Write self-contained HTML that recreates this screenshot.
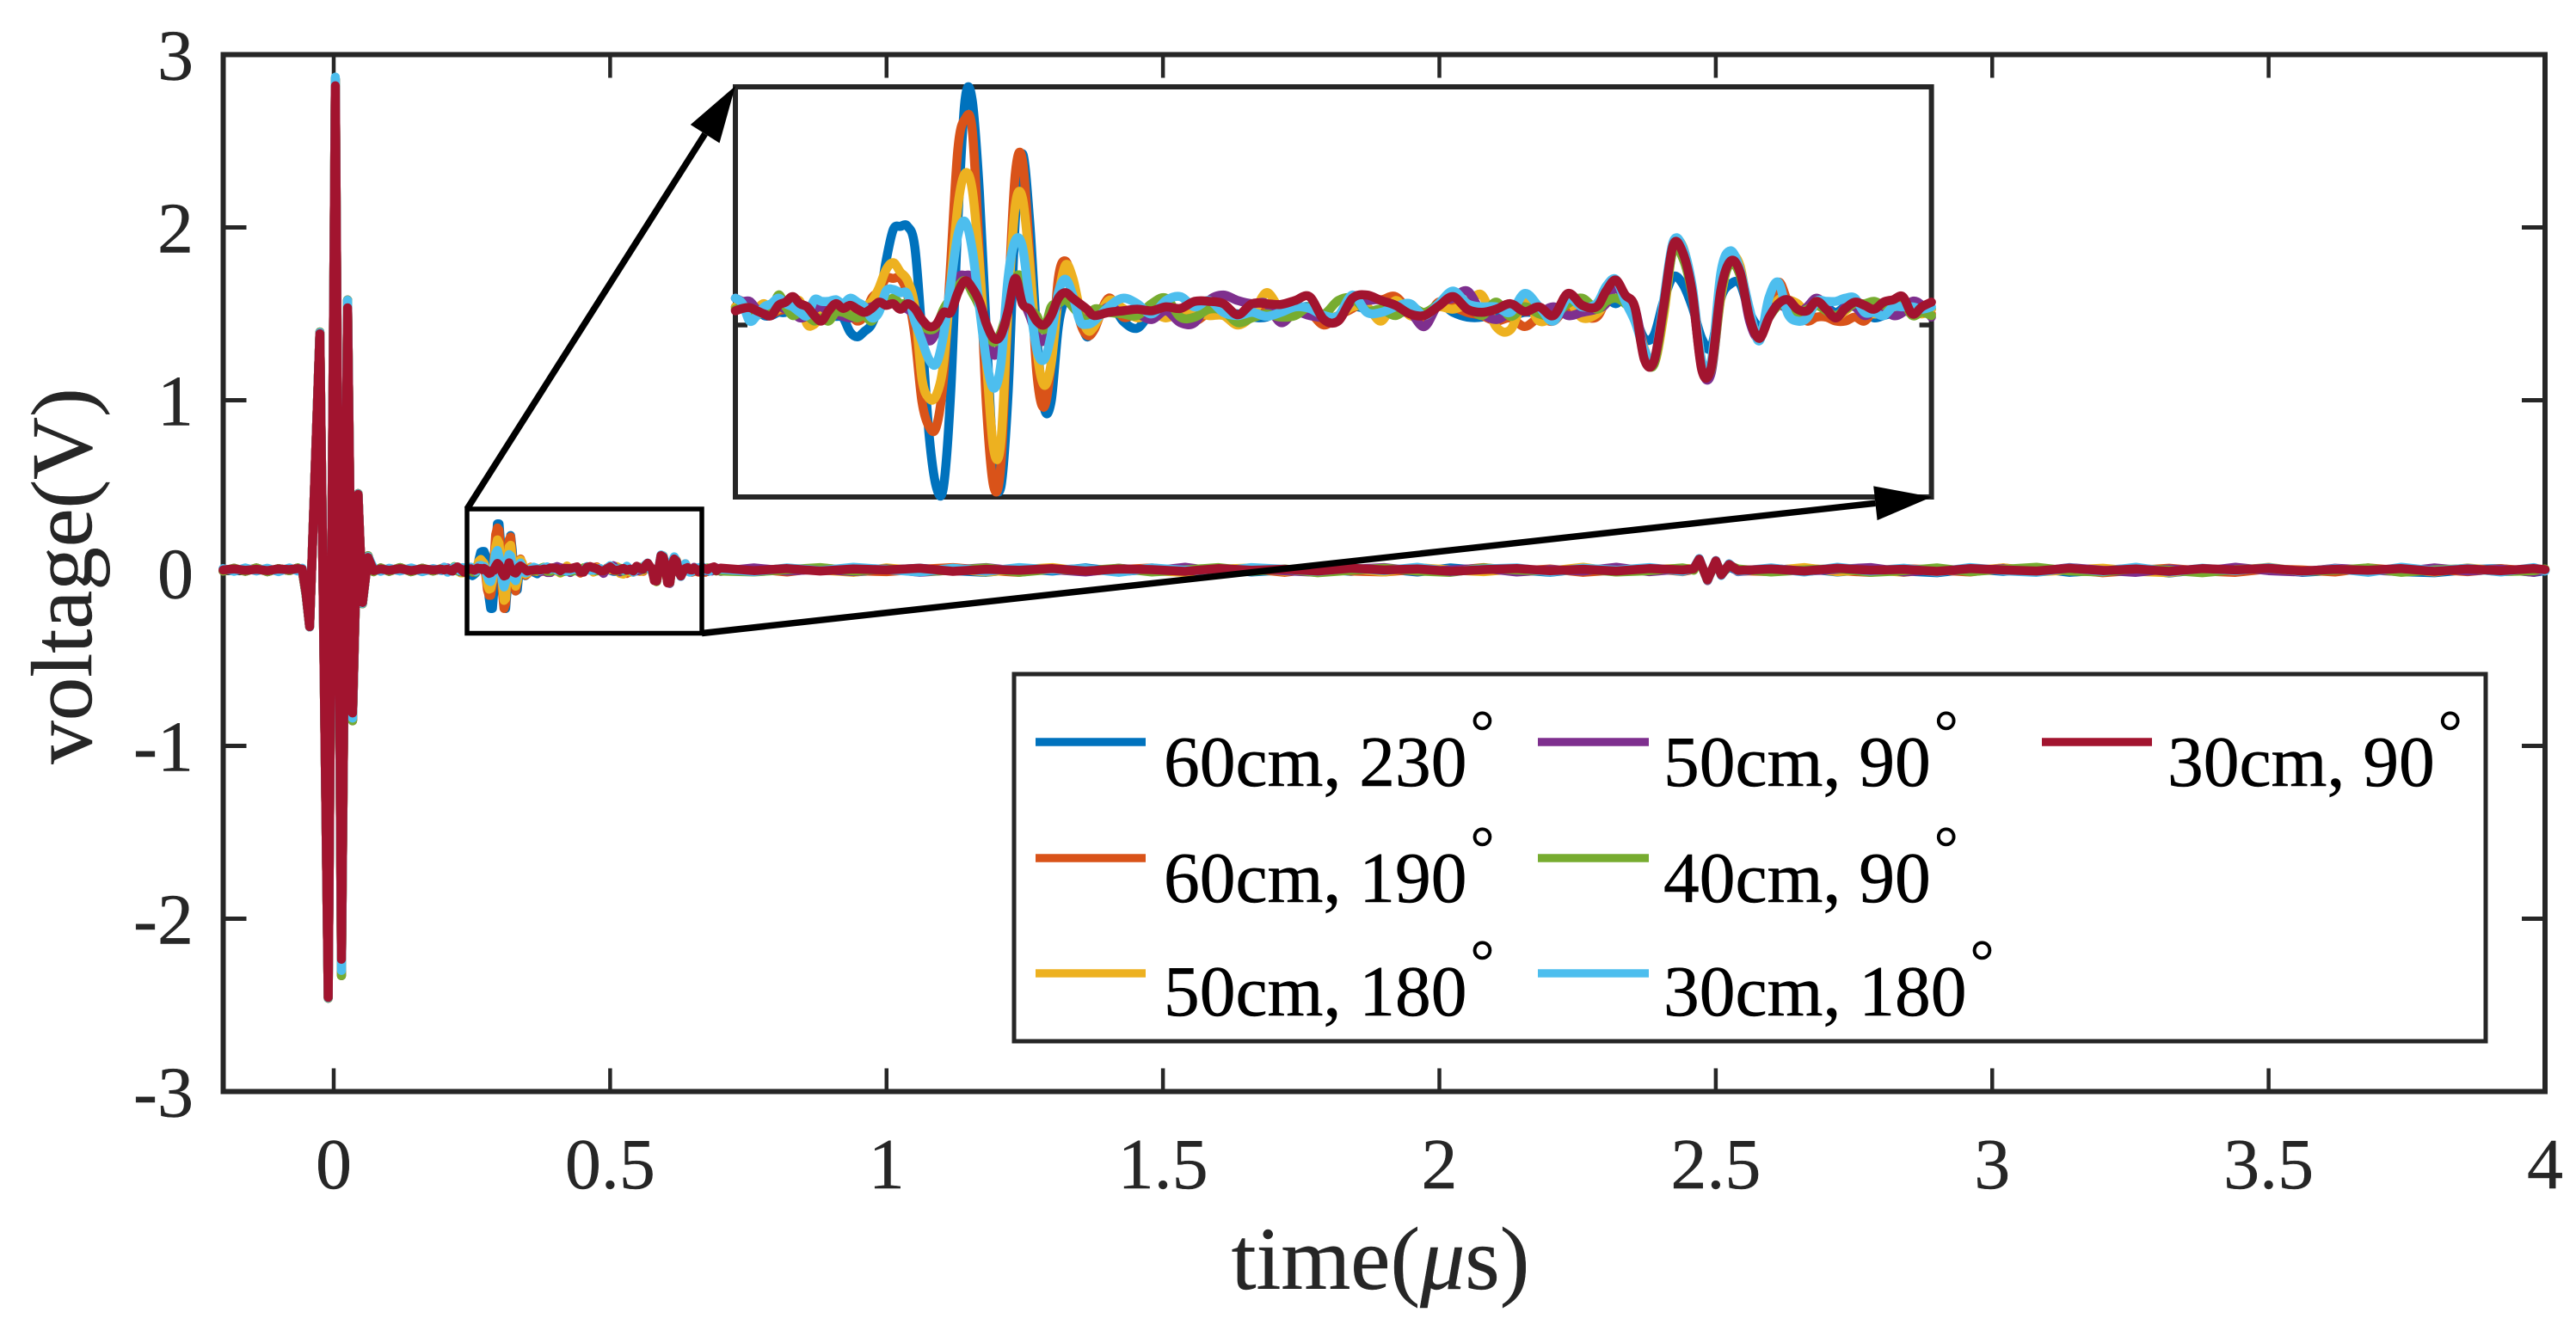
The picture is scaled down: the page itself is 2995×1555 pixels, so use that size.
<!DOCTYPE html>
<html lang="en">
<head>
<meta charset="utf-8">
<title>Voltage versus time</title>
<style>
html,body{margin:0;padding:0;background:#fff;width:2995px;height:1555px;overflow:hidden}
svg{display:block}
text{font-family:"Liberation Serif","Times New Roman",serif}
.tick-label{font-size:84px;fill:#262626;stroke:#262626;stroke-width:.4}
.legend-label{font-size:83.5px;fill:#000;stroke:#000;stroke-width:.5}
.deg{font-size:70px}
</style>
</head>
<body>
<svg id="chart" xmlns="http://www.w3.org/2000/svg" width="2995" height="1555" viewBox="0 0 2995 1555">
  <rect x="0" y="0" width="2995" height="1555" fill="#fff"/>
  <rect x="259.5" y="63.5" width="2699.5" height="1206" fill="none" stroke="#262626" stroke-width="6"/>
  <g id="axis-ticks"></g>
  <g id="main-series" fill="none" stroke-width="10.5" stroke-linejoin="round" stroke-linecap="round"></g>
  <rect x="543" y="592" width="273" height="144.5" fill="none" stroke="#000" stroke-width="5.5"/>
  <rect x="855" y="101" width="1390.6" height="477" fill="#fff" stroke="#262626" stroke-width="6"/>
  <g id="inset-ticks"></g>
  <g id="inset-series" fill="none" stroke-width="10.5" stroke-linejoin="round" stroke-linecap="round"></g>
  <g id="zoom-arrows"></g>
  <text transform="translate(106,670) rotate(-90)" text-anchor="middle" font-size="101" fill="#262626" stroke="#262626" stroke-width=".4">voltage(V)</text>
  <text x="1605" y="1499" text-anchor="middle" font-size="104" fill="#262626" stroke="#262626" stroke-width=".4">time(<tspan font-style="italic">μ</tspan>s)</text>
  <g>
    <rect x="1179" y="784" width="1711" height="427" fill="#fff" stroke="#262626" stroke-width="5"/>
    <g>
      <line x1="1204" y1="863" x2="1332" y2="863" stroke="#0072BD" stroke-width="9.5"/>
      <text class="legend-label" x="1353" y="914">60cm, 230<tspan class="deg" dx="4" dy="-39.5">°</tspan></text>
    </g>
    <g>
      <line x1="1204" y1="998" x2="1332" y2="998" stroke="#D95319" stroke-width="9.5"/>
      <text class="legend-label" x="1353" y="1049">60cm, 190<tspan class="deg" dx="4" dy="-39.5">°</tspan></text>
    </g>
    <g>
      <line x1="1204" y1="1132" x2="1332" y2="1132" stroke="#EDB120" stroke-width="9.5"/>
      <text class="legend-label" x="1353" y="1181">50cm, 180<tspan class="deg" dx="4" dy="-39.5">°</tspan></text>
    </g>
    <g>
      <line x1="1788" y1="863" x2="1917" y2="863" stroke="#7E2F8E" stroke-width="9.5"/>
      <text class="legend-label" x="1934" y="914">50cm, 90<tspan class="deg" dx="4" dy="-39.5">°</tspan></text>
    </g>
    <g>
      <line x1="1788" y1="998" x2="1917" y2="998" stroke="#77AC30" stroke-width="9.5"/>
      <text class="legend-label" x="1934" y="1049">40cm, 90<tspan class="deg" dx="4" dy="-39.5">°</tspan></text>
    </g>
    <g>
      <line x1="1788" y1="1132" x2="1917" y2="1132" stroke="#4DBEEE" stroke-width="9.5"/>
      <text class="legend-label" x="1934" y="1181">30cm, 180<tspan class="deg" dx="4" dy="-39.5">°</tspan></text>
    </g>
    <g>
      <line x1="2374" y1="863" x2="2502" y2="863" stroke="#A2142F" stroke-width="9.5"/>
      <text class="legend-label" x="2520" y="914">30cm, 90<tspan class="deg" dx="4" dy="-39.5">°</tspan></text>
    </g>
  </g>
</svg>
<script>
const xTicks = [0, 0.5, 1, 1.5, 2, 2.5, 3, 3.5, 4];
const xTickLabels = ['0', '0.5', '1', '1.5', '2', '2.5', '3', '3.5', '4'];
const yTicks = [-3, -2, -1, 0, 1, 2, 3];
const yTickLabels = ['-3', '-2', '-1', '0', '1', '2', '3'];

const pulseTime = [-0.2,-0.18,-0.16,-0.14,-0.12,-0.1,-0.08,-0.065,-0.057,-0.05,-0.0436,-0.025,-0.01,0.003,0.014,0.025,0.034,0.044,0.052,0.062,0.072,0.085,0.1,0.12,0.14,0.16,0.18,0.195];
const clusterTime = [0.2,0.203,0.206,0.209,0.212,0.215,0.218,0.221,0.224,0.227,0.23,0.233,0.236,0.239,0.242,0.245,0.248,0.251,0.254,0.257,0.26,0.263,0.266,0.269,0.272,0.275,0.278,0.281,0.284,0.287,0.29,0.293,0.296,0.299,0.302,0.305,0.308,0.311,0.314,0.317,0.32,0.323,0.326,0.329,0.332,0.335,0.338,0.341,0.344,0.347];
const midTime = [0.35,0.356,0.362,0.368,0.374,0.38,0.386,0.392,0.398,0.404,0.41,0.416,0.422,0.428,0.434,0.44,0.446,0.452,0.458,0.464,0.47,0.476,0.482,0.488,0.494,0.5,0.506,0.512,0.518,0.524,0.53,0.536,0.542,0.548,0.554];
const echoTime = [0.56,0.564,0.568,0.572,0.576,0.58,0.584,0.588,0.592,0.596,0.6,0.604,0.608,0.612,0.616,0.62,0.624,0.628,0.632,0.636,0.64,0.644,0.648,0.652,0.656,0.66,0.664,0.668,0.672,0.676,0.68,0.684,0.688,0.692,0.696,0.7];
const tailTime = [0.76,0.82,0.88,0.94,1,1.06,1.12,1.18,1.24,1.3,1.36,1.42,1.48,1.54,1.6,1.66,1.72,1.78,1.84,1.9,1.96,2.02,2.08,2.14,2.2,2.26,2.32,2.38,2.44,2.46,2.47,2.485,2.5,2.51,2.524,2.54,2.6,2.66,2.72,2.78,2.84,2.9,2.96,3.02,3.08,3.14,3.2,3.26,3.32,3.38,3.44,3.5,3.56,3.62,3.68,3.74,3.8,3.86,3.92,3.98,4];

// all voltages in millivolts
const pulseWarm = [12,28,10,30,8,26,14,30,16,-130,-312,1395,-2460,2860,-2330,1580,-855,460,-178,100,8,30,10,32,8,28,12,26];
const pulseCyan = [26,10,30,12,28,8,30,12,28,-125,-312,1392,-2458,2870,-2300,1578,-840,458,-175,95,30,10,28,12,30,8,26,14];
const pulseRed = [18,24,16,22,14,24,20,26,22,-120,-310,1385,-2455,2820,-2235,1535,-810,455,-170,90,14,24,16,26,14,24,18,22];

const blueCluster = [23,27,23,20,12,12,16,16,23,23,20,16,20,12,11,9,-9,-15,-8,1,27,81,121,125,125,99,-13,-140,-205,-205,-86,132,285,285,168,-13,-176,-205,-86,132,217,132,-13,-104,-97,-2,34,34,9,-15];
const orangeCluster = [20,23,20,18,16,14,18,20,23,23,18,16,14,18,20,18,14,5,12,34,43,59,59,59,38,-13,-97,-129,-129,-67,78,223,261,248,89,-104,-205,-177,23,191,209,89,-60,-104,-49,59,81,52,5,-13];
const yellowCluster = [23,20,18,21,27,18,20,27,27,30,1,1,12,16,20,23,18,16,23,30,47,70,79,67,56,23,-68,-93,-89,-49,52,151,192,172,78,-49,-158,-148,23,151,161,78,-31,-76,-49,34,76,60,20,-6];
const purpleCluster = [34,30,30,20,16,16,23,20,16,9,12,20,23,16,14,11,9,12,20,23,27,27,27,23,20,12,-2,-20,-9,12,27,59,63,59,27,-13,-38,-24,20,56,34,12,-13,-20,5,27,34,27,12,5];
const greenCluster = [20,23,21,12,20,16,38,23,12,16,12,5,9,5,16,16,12,9,12,5,20,27,34,27,27,16,1,-6,-2,20,34,49,56,41,23,-6,-22,-9,23,59,59,23,12,-6,23,27,32,23,12,1];
const cyanCluster = [34,27,5,12,23,27,34,27,23,16,12,32,30,30,32,27,34,29,23,9,16,43,45,41,39,5,-20,-44,-49,-13,52,114,131,96,23,-46,-80,-49,60,107,99,30,-31,-44,-13,41,58,38,5,1];
const redCluster = [18,21,22,18,14,12,25,29,36,27,23,12,5,18,27,21,25,20,16,21,29,25,27,20,27,21,7,-2,1,16,16,41,56,47,30,1,-17,-13,18,59,27,20,5,0,12,34,41,34,27,20];

const blueMid = [1,30,5,-4,16,20,16,14,16,16,14,10,10,20,20,23,9,10,23,20,16,23,16,3,27,16,10,10,16,12,16,16,20,27,12];
const orangeMid = [-6,34,10,16,20,20,12,5,16,20,9,16,21,23,20,16,0,12,21,34,32,36,16,5,29,23,16,12,5,9,-2,9,5,23,12];
const yellowMid = [-2,31,21,9,16,9,16,16,12,12,0,12,41,20,23,20,9,12,23,23,5,31,12,12,23,20,27,38,-2,-6,31,5,12,30,9];
const purpleMid = [7,23,14,14,7,18,3,3,31,38,31,27,27,3,16,12,9,7,31,31,31,16,16,-2,27,34,43,16,7,16,23,16,23,12,16];
const greenMid = [20,16,14,12,27,34,10,10,20,18,3,9,14,10,12,23,14,31,34,18,20,12,23,16,27,41,27,12,29,11,23,14,12,27,34];
const cyanMid = [5,23,34,27,14,31,36,23,31,16,12,16,11,16,23,21,12,12,38,16,16,23,27,12,27,43,27,23,23,16,40,23,5,34,23];
const redMid = [12,16,18,20,18,23,21,30,30,27,13,27,27,26,31,36,7,5,34,38,31,25,14,12,24,36,20,16,20,27,17,23,12,40,25];

const blueEcho = [23,34,27,34,12,-17,-13,30,61,52,23,-17,-28,34,52,52,16,-2,12,30,27,23,20,27,23,16,23,23,16,9,12,16,23,20,16,20];
const orangeEcho = [10,32,50,32,20,-33,-46,20,96,88,41,-48,-50,40,82,65,10,-15,10,54,30,18,5,10,10,5,5,10,5,18,18,14,20,14,16,14];
const yellowEcho = [14,30,50,34,20,-30,-50,10,98,100,45,-46,-55,35,85,75,12,-10,12,32,32,27,16,25,20,10,18,27,20,14,16,20,25,20,14,20];
const purpleEcho = [20,27,50,30,22,-33,-46,25,100,88,38,-55,-60,40,82,67,5,-17,14,25,20,14,23,34,23,9,23,23,12,18,23,12,16,30,25,10];
const greenEcho = [20,30,34,27,12,-38,-50,18,95,85,38,-50,-55,40,78,63,12,-15,9,25,30,16,20,25,18,12,20,27,27,30,25,25,30,12,16,12];
const cyanEcho = [27,49,58,30,5,-31,-46,30,105,99,49,-46,-46,67,94,70,20,-20,34,54,14,5,9,30,30,30,34,34,16,16,12,23,23,23,20,23];
const redEcho = [23,43,57,38,23,-44,-46,23,101,92,41,-57,-53,45,81,67,9,-17,9,27,32,20,18,30,20,9,21,29,25,20,29,32,36,14,23,29];

const blueTail = [20,10,26,6,18,28,14,4,24,12,30,8,22,16,28,6,18,26,10,24,6,30,14,20,4,26,10,22,14,20,60,-20,48,-5,36,12,18,26,6,22,12,2,24,10,28,4,18,26,0,22,12,30,4,16,24,8,2,20,26,4,14];
const orangeTail = [24,6,30,14,8,22,32,16,4,26,10,20,30,8,18,24,4,28,12,6,22,14,32,10,24,4,18,28,8,22,76,-38,68,-8,46,14,8,28,14,4,26,18,6,30,10,22,2,16,28,12,4,24,18,6,30,14,22,8,26,10,18];
const yellowTail = [10,28,18,4,30,12,24,6,20,32,8,26,14,4,22,30,10,16,26,6,32,18,8,24,12,34,6,20,28,24,78,-36,70,-6,48,20,14,32,8,20,4,26,12,30,6,18,28,10,2,24,14,34,8,20,12,26,6,30,10,22,16];
const purpleTail = [30,12,22,8,26,4,18,32,10,20,6,28,12,34,8,24,14,4,22,32,10,18,28,6,20,12,34,8,24,18,82,-44,72,-12,50,8,28,10,22,32,6,20,12,26,8,32,16,4,24,10,34,14,6,28,18,8,30,12,22,4,20];
const greenTail = [6,20,32,12,24,8,16,30,4,22,14,28,6,18,32,10,24,2,16,28,12,4,30,18,10,24,6,14,30,16,78,-42,66,-10,44,24,6,18,26,4,14,30,8,22,34,12,6,26,16,2,20,28,10,16,30,4,18,26,8,14,24];
const cyanTail = [8,30,14,34,20,6,28,10,32,18,26,4,30,16,8,32,22,10,30,14,34,8,24,30,6,28,16,32,10,28,84,-42,72,-14,54,10,30,6,34,12,28,6,32,14,4,30,10,34,6,28,14,32,8,26,4,34,12,28,6,32,12];
const redTail = [14,26,12,24,18,28,10,22,16,26,12,24,20,10,26,16,22,12,28,18,24,10,20,26,14,22,12,26,18,25,80,-40,70,-10,50,15,24,12,28,16,22,10,26,18,12,28,14,24,10,26,18,28,12,22,16,26,10,24,14,26,20];

const timeUs = [...pulseTime, ...clusterTime, ...midTime, ...echoTime, ...tailTime];
const series60cm230 = [...pulseWarm, ...blueCluster, ...blueMid, ...blueEcho, ...blueTail];
const series60cm190 = [...pulseWarm, ...orangeCluster, ...orangeMid, ...orangeEcho, ...orangeTail];
const series50cm180 = [...pulseWarm, ...yellowCluster, ...yellowMid, ...yellowEcho, ...yellowTail];
const series50cm90 = [...pulseWarm, ...purpleCluster, ...purpleMid, ...purpleEcho, ...purpleTail];
const series40cm90 = [...pulseWarm, ...greenCluster, ...greenMid, ...greenEcho, ...greenTail];
const series30cm180 = [...pulseCyan, ...cyanCluster, ...cyanMid, ...cyanEcho, ...cyanTail];
const series30cm90 = [...pulseRed, ...redCluster, ...redMid, ...redEcho, ...redTail];

const seriesList = [series60cm230, series60cm190, series50cm180, series50cm90, series40cm90, series30cm180, series30cm90];
const seriesKeys = ['60cm-230', '60cm-190', '50cm-180', '50cm-90', '40cm-90', '30cm-180', '30cm-90'];
const seriesColors = ['#0072BD', '#D95319', '#EDB120', '#7E2F8E', '#77AC30', '#4DBEEE', '#A2142F'];

const SVGNS = 'http://www.w3.org/2000/svg';
const xMain = function (t) { return 388 + 642.75 * t; };
const yMain = function (mv) { return 666.5 - 0.201 * mv; };
const xInset = function (t) { return 855 + 2781.2 * (t - 0.2); };
const yInset = function (mv) { return 378 - 0.918 * mv; };

function pointsFor(values, xf, yf, tMin, tMax) {
  const out = [];
  const n = Math.min(timeUs.length, values.length);
  for (let i = 0; i < n; i++) {
    if (timeUs[i] >= tMin && timeUs[i] <= tMax) {
      out.push([xf(timeUs[i]), yf(values[i])]);
    }
  }
  return out;
}
function polyString(pts) {
  return pts.map(function (p) { return p[0].toFixed(1) + ',' + p[1].toFixed(1); }).join(' ');
}
function smoothPath(pts) {
  let d = 'M' + pts[0][0].toFixed(1) + ' ' + pts[0][1].toFixed(1);
  for (let i = 0; i < pts.length - 1; i++) {
    const p0 = pts[Math.max(0, i - 1)], p1 = pts[i], p2 = pts[i + 1], p3 = pts[Math.min(pts.length - 1, i + 2)];
    const c1x = p1[0] + (p2[0] - p0[0]) / 6, c1y = p1[1] + (p2[1] - p0[1]) / 6;
    const c2x = p2[0] - (p3[0] - p1[0]) / 6, c2y = p2[1] - (p3[1] - p1[1]) / 6;
    d += 'C' + c1x.toFixed(1) + ' ' + c1y.toFixed(1) + ' ' + c2x.toFixed(1) + ' ' + c2y.toFixed(1) + ' ' + p2[0].toFixed(1) + ' ' + p2[1].toFixed(1);
  }
  return d;
}

const mainGroup = document.getElementById('main-series');
const insetGroup = document.getElementById('inset-series');
seriesList.forEach(function (values, idx) {
  const mainLine = document.createElementNS(SVGNS, 'polyline');
  
  
  mainLine.setAttribute('points', polyString(pointsFor(values, xMain, yMain, -1, 5)));
  mainLine.setAttribute('stroke', seriesColors[idx]);
  mainGroup.appendChild(mainLine);

  const insetLine = document.createElementNS(SVGNS, 'path');
  
  
  insetLine.setAttribute('d', smoothPath(pointsFor(values, xInset, yInset, 0.2, 0.7)));
  insetLine.setAttribute('stroke', seriesColors[idx]);
  insetGroup.appendChild(insetLine);
});

const tickGroup = document.getElementById('axis-ticks');
function addTickLine(x1, y1, x2, y2, width) {
  const l = document.createElementNS(SVGNS, 'line');
  
  
  l.setAttribute('x1', x1);
  l.setAttribute('y1', y1);
  l.setAttribute('x2', x2);
  l.setAttribute('y2', y2);
  l.setAttribute('stroke', '#262626');
  l.setAttribute('stroke-width', width);
  tickGroup.appendChild(l);
}
xTicks.forEach(function (t, i) {
  const x = xMain(t);
  if (i < xTicks.length - 1) {
    addTickLine(x, 1269.5, x, 1242.5, 4.5);
    addTickLine(x, 63.5, x, 90.5, 4.5);
  }
  const label = document.createElementNS(SVGNS, 'text');
  
  
  label.setAttribute('class', 'tick-label');
  label.setAttribute('x', x);
  label.setAttribute('y', 1382);
  label.setAttribute('text-anchor', 'middle');
  label.textContent = xTickLabels[i];
  tickGroup.appendChild(label);
});
yTicks.forEach(function (v, i) {
  const y = yMain(v * 1000);
  if (i > 0 && i < yTicks.length - 1) {
    addTickLine(259.5, y, 286.5, y, 5);
    addTickLine(2959, y, 2932, y, 5);
  }
  const label = document.createElementNS(SVGNS, 'text');
  
  
  label.setAttribute('class', 'tick-label');
  label.setAttribute('x', 225);
  label.setAttribute('y', y + 29);
  label.setAttribute('text-anchor', 'end');
  label.textContent = yTickLabels[i];
  tickGroup.appendChild(label);
});

const insetTicks = document.getElementById('inset-ticks');
[[855, 869], [2245.6, 2231.6]].forEach(function (pair) {
  const l = document.createElementNS(SVGNS, 'line');
  
  
  l.setAttribute('x1', pair[0]);
  l.setAttribute('y1', 378);
  l.setAttribute('x2', pair[1]);
  l.setAttribute('y2', 378);
  l.setAttribute('stroke', '#262626');
  l.setAttribute('stroke-width', 5.5);
  insetTicks.appendChild(l);
});

const arrowGroup = document.getElementById('zoom-arrows');
function addArrow(x1, y1, x2, y2, name) {
  const dx = x2 - x1, dy = y2 - y1, len = Math.hypot(dx, dy);
  const ux = dx / len, uy = dy / len;
  const bx = x2 - ux * 66, by = y2 - uy * 66;
  const line = document.createElementNS(SVGNS, 'line');
  
  
  line.setAttribute('x1', x1);
  line.setAttribute('y1', y1);
  line.setAttribute('x2', bx);
  line.setAttribute('y2', by);
  line.setAttribute('stroke', '#000');
  line.setAttribute('stroke-width', 7.5);
  arrowGroup.appendChild(line);
  const head = document.createElementNS(SVGNS, 'polygon');
  
  
  head.setAttribute('points', [x2, y2, bx - uy * 20, by + ux * 20, bx + uy * 20, by - ux * 20].map(function (n) { return n.toFixed(1); }).join(' '));
  head.setAttribute('fill', '#000');
  arrowGroup.appendChild(head);
}
addArrow(543, 592, 855, 100, 'zoom-arrow-top');
addArrow(816, 736.5, 2246, 578, 'zoom-arrow-bottom');
</script>
</body>
</html>
